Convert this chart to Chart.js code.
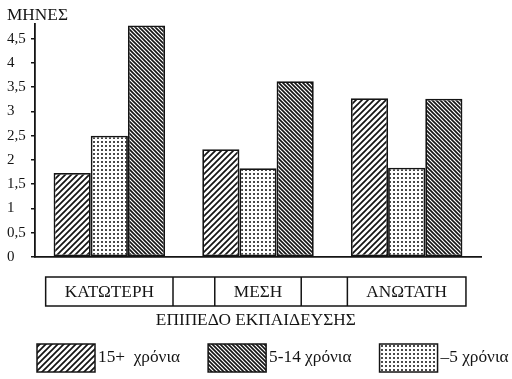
<!DOCTYPE html>
<html>
<head>
<meta charset="utf-8">
<script src="https://cdn.jsdelivr.net/npm/chart.js@4"></script>
<style>
  html, body { margin: 0; padding: 0; background: #fff; }
  canvas { display: block; }
</style>
</head>
<body>
<canvas id="chart" width="512" height="379"></canvas>
<script>
// Data
const categories = ['ΚΑΤΩΤΕΡΗ', 'ΜΕΣΗ', 'ΑΝΩΤΑΤΗ'];
const seriesLabels = ['15+  χρόνια', '–5 χρόνια', '5-14 χρόνια'];
const over15 = [1.73, 2.22, 3.27];
const under5 = [2.5, 1.83, 1.84];
const from5to14 = [4.77, 3.62, 3.26];
const yTicks = [0, 0.5, 1, 1.5, 2, 2.5, 3, 3.5, 4, 4.5];
const yTitle = 'ΜΗΝΕΣ';
const xTitle = 'ΕΠΙΠΕΔΟ ΕΚΠΑΙΔΕΥΣΗΣ';
const legendOrder = [0, 2, 1];

const FONT = '"Liberation Serif", "DejaVu Serif", serif';
const INK = '#141414';
const STRETCH = 1.08; // the scanned type is a bit wider than Liberation Serif

// hatch patterns
function makePattern(size, draw) {
  const c = document.createElement('canvas');
  c.width = size; c.height = size;
  const g = c.getContext('2d');
  g.fillStyle = '#fff';
  g.fillRect(0, 0, size, size);
  g.strokeStyle = INK;
  g.fillStyle = INK;
  draw(g, size);
  return g.createPattern(c, 'repeat');
}

const wideHatch = makePattern(6, (g, s) => {
  g.lineWidth = 1.7;
  g.beginPath();
  g.moveTo(0, s); g.lineTo(s, 0);
  g.moveTo(-1, 1); g.lineTo(1, -1);
  g.moveTo(s - 1, s + 1); g.lineTo(s + 1, s - 1);
  g.stroke();
});

const denseHatch = makePattern(4, (g, s) => {
  g.lineWidth = 1.6;
  g.beginPath();
  g.moveTo(0, 0); g.lineTo(s, s);
  g.moveTo(-1, s - 1); g.lineTo(1, s + 1);
  g.moveTo(s - 1, -1); g.lineTo(s + 1, 1);
  g.stroke();
});

const dots = makePattern(4, (g, s) => {
  g.fillStyle = '#4a4a4a';
  g.fillRect(1, 1, 2, 2);
});

function wideText(ctx, text, x, y) {
  ctx.save();
  ctx.translate(x, y);
  ctx.scale(STRETCH, 1);
  ctx.fillText(text, 0, 0);
  ctx.restore();
}

// table of categories, x title and legend under the plot
const bottomParts = {
  id: 'bottomParts',
  afterDraw(chart) {
    const { ctx, chartArea, scales } = chart;
    const x = scales.x;
    ctx.save();
    ctx.fillStyle = INK;
    ctx.strokeStyle = INK;
    ctx.font = '16px ' + FONT;
    ctx.textBaseline = 'middle';

    // y title
    ctx.textAlign = 'left';
    wideText(ctx, yTitle, 7, 16);

    // category table
    const rowTop = chartArea.bottom + 20;
    const rowH = 29;
    const cells = categories.map((c, i) => {
      const cx = x.getPixelForValue(i);
      const w = ctx.measureText(c).width * STRETCH + 38;
      return { cx, left: cx - w / 2, right: cx + w / 2 };
    });
    ctx.lineWidth = 1.5;
    const L = cells[0].left, R = cells[cells.length - 1].right;
    ctx.strokeRect(L, rowTop, R - L, rowH);
    ctx.beginPath();
    cells.forEach((cell, i) => {
      if (i > 0) { ctx.moveTo(cell.left, rowTop); ctx.lineTo(cell.left, rowTop + rowH); }
      if (i < cells.length - 1) { ctx.moveTo(cell.right, rowTop); ctx.lineTo(cell.right, rowTop + rowH); }
    });
    ctx.stroke();
    ctx.textAlign = 'center';
    cells.forEach((cell, i) => wideText(ctx, categories[i], cell.cx, rowTop + rowH / 2 + 1));

    // x title
    wideText(ctx, xTitle, (L + R) / 2, rowTop + rowH + 15);

    // legend
    const boxW = 58, boxH = 28;
    const legTop = rowTop + rowH + 38;
    let lx = 37;
    ctx.textAlign = 'left';
    legendOrder.forEach(di => {
      const ds = chart.data.datasets[di];
      ctx.fillStyle = ds.backgroundColor;
      ctx.fillRect(lx, legTop, boxW, boxH);
      ctx.lineWidth = 1.5;
      ctx.strokeRect(lx, legTop, boxW, boxH);
      ctx.fillStyle = INK;
      wideText(ctx, ds.label, lx + boxW + 3, legTop + boxH / 2);
      lx += boxW + 3 + ctx.measureText(ds.label).width * STRETCH + 28;
    });
    ctx.restore();
  }
};

const ctx = document.getElementById('chart').getContext('2d');
const chart = new Chart(ctx, {
  type: 'bar',
  data: {
    labels: categories,
    datasets: [
      { label: seriesLabels[0], data: over15, backgroundColor: wideHatch },
      { label: seriesLabels[1], data: under5, backgroundColor: dots },
      { label: seriesLabels[2], data: from5to14, backgroundColor: denseHatch }
    ].map(d => Object.assign(d, { borderColor: INK, borderWidth: 1.8, borderSkipped: false }))
  },
  options: {
    responsive: false,
    animation: false,
    events: [],
    layout: { padding: { left: 7, right: 31, top: 24, bottom: 122 } },
    datasets: { bar: { categoryPercentage: 0.75, barPercentage: 1 } },
    plugins: { legend: { display: false }, tooltip: { enabled: false } },
    scales: {
      x: {
        grid: { display: false },
        ticks: { display: false },
        border: { display: true, color: INK, width: 1.8 },
        afterFit: s => { s.height = 0; }
      },
      y: {
        min: 0,
        max: 4.8,
        afterBuildTicks: s => { s.ticks = yTicks.map(v => ({ value: v })); },
        grid: { drawOnChartArea: false, drawTicks: true, tickLength: 4, color: INK, lineWidth: 1.5 },
        border: { display: true, color: INK, width: 1.8 },
        ticks: {
          color: INK,
          crossAlign: 'far',
          padding: 2,
          font: { family: FONT, size: 15 },
          callback: v => String(v).replace('.', ',')
        },
        afterFit: s => { s.width = 28; }
      }
    }
  },
  plugins: [bottomParts]
});
</script>
</body>
</html>
